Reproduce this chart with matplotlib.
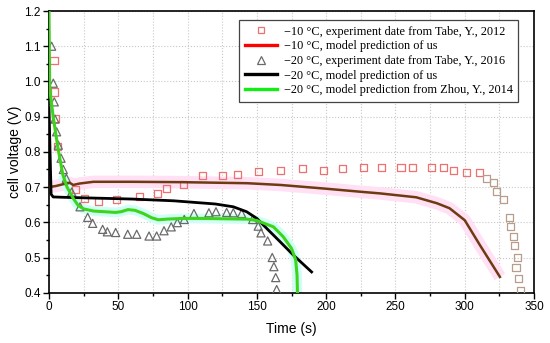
import matplotlib.pyplot as plt
from matplotlib.lines import Line2D
from matplotlib.ticker import MultipleLocator
import numpy as np

# -10 C experiment (Tabe 2012), squares
t10_exp = [3.6, 4.0, 4.6, 6.0, 18.8, 25.5, 36, 49, 65, 78, 85, 97, 111, 125, 136, 151,
           167, 183, 198, 212, 227, 240, 254, 262, 276, 285, 292, 301, 311, 316, 321,
           323, 328, 332, 333, 335, 336, 338, 337, 339, 340]
v10_exp = [1.06, 0.97, 0.895, 0.815, 0.693, 0.668, 0.658, 0.665, 0.672, 0.681, 0.695,
           0.708, 0.732, 0.733, 0.735, 0.743, 0.748, 0.753, 0.748, 0.754, 0.755, 0.755,
           0.755, 0.755, 0.755, 0.755, 0.748, 0.741, 0.741, 0.725, 0.712, 0.687, 0.665,
           0.613, 0.587, 0.559, 0.533, 0.500, 0.472, 0.441, 0.407]

# -10 C model of us
t10_mod = [0, 5, 10, 15, 17.5, 22, 32, 60, 95, 143, 167, 198, 224, 239, 265, 280,
           289, 300, 311, 325.4]
v10_mod = [0.700, 0.703, 0.708, 0.712, 0.706, 0.710, 0.715, 0.715, 0.714, 0.711,
           0.706, 0.696, 0.687, 0.682, 0.671, 0.654, 0.640, 0.606, 0.535, 0.445]

# -20 C experiment (Tabe 2016), triangles
t20_exp = [1.9, 3.1, 3.8, 4.3, 5.5, 6.7, 8.7, 10.3, 12.5, 16.4, 22.4, 27.9, 31.5, 38.7,
           42.1, 48.1, 56.8, 63.3, 72.2, 77.7, 83, 88.2, 92.6, 97.6, 104.6, 115.4, 120.5,
           128.2, 133, 139, 147, 151, 153, 157.8, 161.1, 162.3, 163.6, 164.3]
v20_exp = [1.10, 0.995, 0.942, 0.893, 0.857, 0.819, 0.782, 0.750, 0.725, 0.686, 0.644,
           0.614, 0.597, 0.580, 0.573, 0.571, 0.566, 0.566, 0.561, 0.561, 0.576, 0.587,
           0.599, 0.608, 0.625, 0.627, 0.630, 0.628, 0.627, 0.625, 0.608, 0.589, 0.570,
           0.547, 0.500, 0.474, 0.443, 0.409]

# -20 C model of us
t20_mod = [0, 1.5, 3, 10, 30, 60, 90, 110, 120, 133, 142.6, 150, 157, 166.7, 176.3, 189.5]
v20_mod = [0.925, 0.680, 0.672, 0.671, 0.669, 0.666, 0.661, 0.655, 0.652, 0.644, 0.630,
           0.611, 0.583, 0.545, 0.507, 0.459]

# -20 C model from Zhou 2014
t20_zhou = [0, 0.5, 3, 6.5, 10, 13, 17.5, 21, 25, 32, 40, 48, 52, 57, 62, 68, 74, 79, 85,
            97, 110, 143, 150, 154, 162, 169, 175, 178, 179, 179.3]
v20_zhou = [1.2, 0.98, 0.90, 0.81, 0.735, 0.70, 0.668, 0.648, 0.638, 0.632, 0.630, 0.628,
            0.630, 0.636, 0.634, 0.625, 0.613, 0.607, 0.609, 0.611, 0.611, 0.609, 0.605,
            0.599, 0.587, 0.559, 0.526, 0.493, 0.45, 0.40]

labels = ['\u221210 \u00b0C, experiment date from Tabe, Y., 2012',
          '\u221210 \u00b0C, model prediction of us',
          '\u221220 \u00b0C, experiment date from Tabe, Y., 2016',
          '\u221220 \u00b0C, model prediction of us',
          '\u221220 \u00b0C, model prediction from Zhou, Y., 2014']

plt.rcParams['font.family'] = ['Liberation Sans', 'DejaVu Sans']

fig = plt.figure(figsize=(5.5, 3.43), dpi=100)
ax = fig.add_axes([0.0891, 0.1466, 0.8818, 0.8213])

# pale highlight bands behind the model curves
ax.plot(t10_mod, v10_mod, color='#ffe0f5', lw=9, solid_capstyle='butt', zorder=1)
tz = np.array(t20_zhou)
vz = np.array(v20_zhou)
ax.plot(tz[tz >= 10], vz[tz >= 10], color='#cffff4', lw=7, solid_capstyle='butt', zorder=1)

sq_colors = ['#ee7070' if t < 315 else '#b89c8c' for t in t10_exp]
ax.scatter(t10_exp, v10_exp, marker='s', s=26, facecolors='none', edgecolors=sq_colors,
           linewidths=0.9, zorder=3)
ax.scatter(t20_exp, v20_exp, marker='^', s=34, facecolors='none', edgecolors='#6a6a6a',
           linewidths=0.9, zorder=3)

ax.plot(t10_mod, v10_mod, color='#6e3a10', lw=1.8, zorder=4)
ax.plot(t20_mod, v20_mod, color='black', lw=2.0, zorder=4)
ax.plot(t20_zhou, v20_zhou, color='#3ed41c', lw=2.2, zorder=4)

ax.set_xlim(0, 350)
ax.set_ylim(0.4, 1.2)
ax.xaxis.set_major_locator(MultipleLocator(50))
ax.xaxis.set_minor_locator(MultipleLocator(25))
ax.yaxis.set_major_locator(MultipleLocator(0.1))
ax.yaxis.set_minor_locator(MultipleLocator(0.05))
ax.tick_params(which='major', direction='out', length=4, width=1, labelsize=8.5, pad=2)
ax.tick_params(which='minor', direction='out', length=2.5, width=1)
ax.grid(which='major', axis='y', color='#c8c8c8', ls=':', lw=0.8)
ax.grid(which='both', axis='x', color='#c8c8c8', ls=':', lw=0.8)
ax.set_axisbelow(True)
for s in ax.spines.values():
    s.set_linewidth(1.2)

ax.set_xlabel('Time (s)', fontsize=10)
ax.set_ylabel('cell voltage (V)', fontsize=10)
ax.xaxis.set_label_coords(0.5, -0.105)
ax.yaxis.set_label_coords(-0.056, 0.5)

handles = [Line2D([], [], ls='none', marker='s', mfc='none', mec='#ee7070', ms=5, mew=0.9),
           Line2D([], [], color='#ff0000', lw=2.4),
           Line2D([], [], ls='none', marker='^', mfc='none', mec='#6a6a6a', ms=5.5, mew=0.9),
           Line2D([], [], color='black', lw=2.4),
           Line2D([], [], color='#11ee11', lw=2.4)]
leg = ax.legend(handles, labels, loc='upper right', bbox_to_anchor=(0.968, 0.968),
                borderaxespad=0, prop={'family': 'Liberation Serif', 'size': 8.8},
                fancybox=False, framealpha=1, edgecolor='#444444', handlelength=2.6,
                handletextpad=0.6, labelspacing=0.22, borderpad=0.45)
leg.get_frame().set_linewidth(0.9)

fig.savefig('out.png', dpi=100)
